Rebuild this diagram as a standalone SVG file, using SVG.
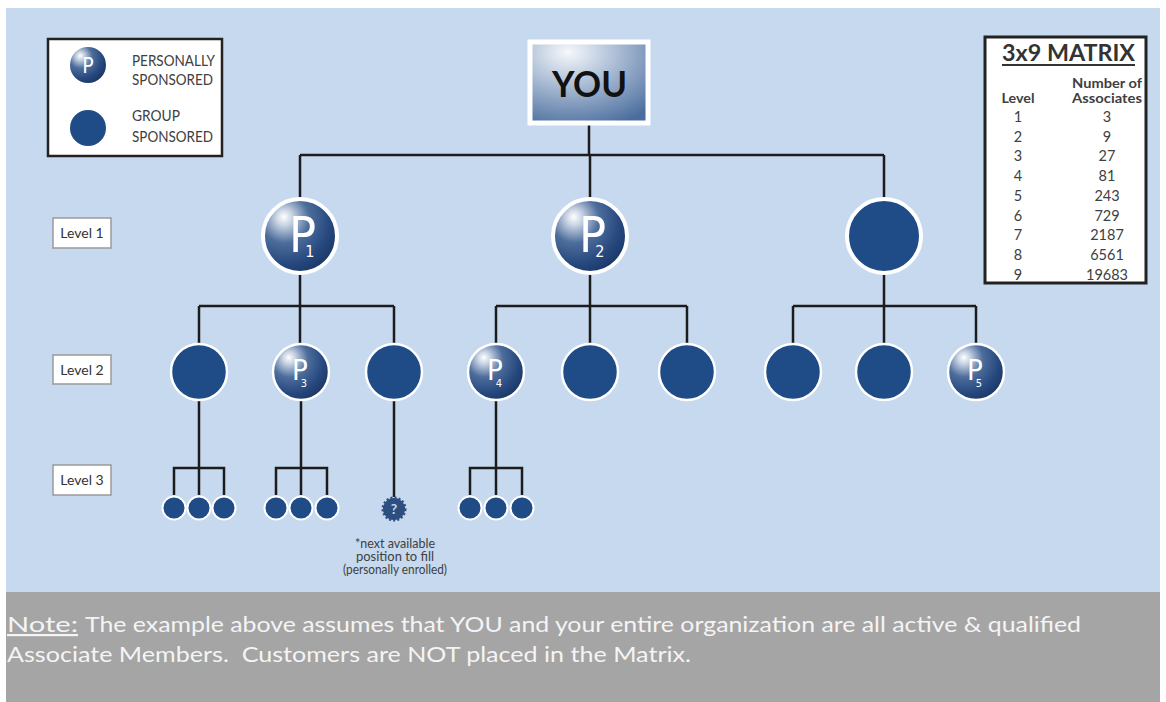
<svg xmlns="http://www.w3.org/2000/svg" width="1166" height="702" viewBox="0 0 1166 702">
<style>
.bg{fill:#c6d9ee}
.conn{stroke:#1c1c1c;stroke-width:2.5;fill:none}
.grp{fill:#1f4b87;stroke:#ffffff}
.pc{fill:url(#pgrad);stroke:#ffffff}
.pl{font-family:"DejaVu Sans",sans-serif;font-stretch:condensed;fill:#ffffff}
.txt{font-family:Lato,"Open Sans",sans-serif;fill:#404040}
.lvl{fill:#ffffff;stroke:#9a9a9a;stroke-width:1.5}
.note{font-family:Lato,"Open Sans",sans-serif;fill:#f4f4f4;font-size:22px}
</style>
<defs>
<radialGradient id="pgrad" cx="0.32" cy="0.3" r="0.78" fx="0.28" fy="0.24">
<stop offset="0" stop-color="#ffffff"/>
<stop offset="0.14" stop-color="#c9d4e4"/>
<stop offset="0.42" stop-color="#4d6d9b"/>
<stop offset="0.75" stop-color="#27497f"/>
<stop offset="1" stop-color="#1a3565"/>
</radialGradient>
<radialGradient id="yougrad" cx="0.35" cy="0.15" r="0.95" fx="0.32" fy="0.12">
<stop offset="0" stop-color="#f6f8fb"/>
<stop offset="0.35" stop-color="#b9c8dc"/>
<stop offset="1" stop-color="#4a6d9e"/>
</radialGradient>
</defs>
<rect x="0" y="0" width="1166" height="702" fill="#ffffff"/>
<rect class="bg" x="6" y="8" width="1154" height="584"/>
<rect x="6" y="592" width="1154" height="110" fill="#a5a5a5"/>

<g id="connectors">
<path class="conn" d="M589 125 V155 M300 155 H884 M300 155 V198 M590 155 V198 M884 155 V198"/>
<path class="conn" d="M300 274 V306 M199 306 H394 M199 306 V344 M300 306 V344 M394 306 V344"/>
<path class="conn" d="M590 274 V306 M496 306 H687 M496 306 V344 M590 306 V344 M687 306 V344"/>
<path class="conn" d="M884 274 V306 M793 306 H976 M793 306 V344 M884 306 V344 M976 306 V344"/>
<path class="conn" d="M199 400 V468 M174 495 V468 H224 V495 M199 468 V495"/>
<path class="conn" d="M301 400 V468 M276 495 V468 H327 V495 M301 468 V495"/>
<path class="conn" d="M394 400 V497"/>
<path class="conn" d="M496 400 V468 M470 495 V468 H522 V495 M496 468 V495"/>
</g>

<g id="legend">
<rect x="48" y="39" width="174" height="117" fill="#ffffff" stroke="#222222" stroke-width="2.5"/>
<circle class="pc" cx="88" cy="65" r="18" stroke-width="0"/>
<text class="pl" x="88" y="73" font-size="21" text-anchor="middle">P</text>
<circle class="grp" cx="88" cy="128" r="18" stroke-width="0"/>
<text class="txt" x="132" y="66" font-size="14.5" textLength="83" lengthAdjust="spacingAndGlyphs">PERSONALLY</text>
<text class="txt" x="132" y="85" font-size="14.5" textLength="81" lengthAdjust="spacingAndGlyphs">SPONSORED</text>
<text class="txt" x="132" y="121" font-size="14.5" textLength="48" lengthAdjust="spacingAndGlyphs">GROUP</text>
<text class="txt" x="132" y="142" font-size="14.5" textLength="81" lengthAdjust="spacingAndGlyphs">SPONSORED</text>
</g>

<g id="you">
<rect x="530" y="42" width="118" height="81" fill="url(#yougrad)" stroke="#ffffff" stroke-width="5"/>
<text x="589.5" y="97" font-family="Lato,'Open Sans',sans-serif" font-weight="bold" font-size="37" fill="#111111" text-anchor="middle" textLength="75" lengthAdjust="spacingAndGlyphs">YOU</text>
</g>

<g id="matrix">
<rect x="985" y="37" width="161" height="246" fill="#ffffff" stroke="#222222" stroke-width="3"/>
<text class="txt" x="1002" y="61" font-size="22" font-weight="bold" textLength="133" lengthAdjust="spacingAndGlyphs" style="fill:#333333">3x9 MATRIX</text>
<line x1="1002" y1="65" x2="1135" y2="65" stroke="#333333" stroke-width="2"/>
<g class="txt" font-size="13" font-weight="bold" text-anchor="middle">
<text x="1107" y="88" textLength="70" lengthAdjust="spacingAndGlyphs">Number of</text>
<text x="1018" y="103" textLength="33" lengthAdjust="spacingAndGlyphs">Level</text>
<text x="1107" y="103" textLength="70" lengthAdjust="spacingAndGlyphs">Associates</text>
</g>
<g class="txt" font-size="14.5" text-anchor="middle">
<text x="1018" y="122">1</text><text x="1107" y="122">3</text>
<text x="1018" y="142">2</text><text x="1107" y="142">9</text>
<text x="1018" y="161">3</text><text x="1107" y="161">27</text>
<text x="1018" y="181">4</text><text x="1107" y="181">81</text>
<text x="1018" y="201">5</text><text x="1107" y="201">243</text>
<text x="1018" y="221">6</text><text x="1107" y="221">729</text>
<text x="1018" y="240">7</text><text x="1107" y="240">2187</text>
<text x="1018" y="260">8</text><text x="1107" y="260">6561</text>
<text x="1018" y="280">9</text><text x="1107" y="280">19683</text>
</g>
</g>

<g id="level-labels">
<rect class="lvl" x="53" y="218" width="58" height="30"/>
<text class="txt" x="82" y="238" font-size="14" text-anchor="middle" style="fill:#333333">Level 1</text>
<rect class="lvl" x="53" y="355" width="58" height="29"/>
<text class="txt" x="82" y="375" font-size="14" text-anchor="middle" style="fill:#333333">Level 2</text>
<rect class="lvl" x="53" y="465" width="58" height="30"/>
<text class="txt" x="82" y="485" font-size="14" text-anchor="middle" style="fill:#333333">Level 3</text>
</g>

<g id="p1" transform="translate(300 236)">
<circle class="pc" r="37" stroke-width="4"/>
<text class="pl" x="-11" y="16" font-size="50">P<tspan dx="-11" dy="5" font-size="16">1</tspan></text>
</g>
<g id="p2" transform="translate(590 236)">
<circle class="pc" r="37" stroke-width="4"/>
<text class="pl" x="-11" y="16" font-size="50">P<tspan dx="-11" dy="5" font-size="16">2</tspan></text>
</g>
<g id="g1" transform="translate(884 236)">
<circle class="grp" r="37" stroke-width="4"/>
</g>

<g id="l2a" transform="translate(199 372)"><circle class="grp" r="28" stroke-width="2.5"/></g>
<g id="p3" transform="translate(301 372)">
<circle class="pc" r="28" stroke-width="2.5"/>
<text class="pl" x="-9" y="8" font-size="29">P<tspan dx="-7" dy="7" font-size="11">3</tspan></text>
</g>
<g id="l2c" transform="translate(394 372)"><circle class="grp" r="28" stroke-width="2.5"/></g>
<g id="p4" transform="translate(496 372)">
<circle class="pc" r="28" stroke-width="2.5"/>
<text class="pl" x="-9" y="8" font-size="29">P<tspan dx="-7" dy="7" font-size="11">4</tspan></text>
</g>
<g id="l2e" transform="translate(590 372)"><circle class="grp" r="28" stroke-width="2.5"/></g>
<g id="l2f" transform="translate(687 372)"><circle class="grp" r="28" stroke-width="2.5"/></g>
<g id="l2g" transform="translate(793 372)"><circle class="grp" r="28" stroke-width="2.5"/></g>
<g id="l2h" transform="translate(884 372)"><circle class="grp" r="28" stroke-width="2.5"/></g>
<g id="p5" transform="translate(976 372)">
<circle class="pc" r="28" stroke-width="2.5"/>
<text class="pl" x="-9" y="8" font-size="29">P<tspan dx="-7" dy="7" font-size="11">5</tspan></text>
</g>

<g id="level3">
<circle class="grp" cx="174" cy="508" r="11.5" stroke-width="2"/>
<circle class="grp" cx="199" cy="508" r="11.5" stroke-width="2"/>
<circle class="grp" cx="224" cy="508" r="11.5" stroke-width="2"/>
<circle class="grp" cx="276" cy="508" r="11.5" stroke-width="2"/>
<circle class="grp" cx="301" cy="508" r="11.5" stroke-width="2"/>
<circle class="grp" cx="327" cy="508" r="11.5" stroke-width="2"/>
<circle class="grp" cx="470" cy="508" r="11.5" stroke-width="2"/>
<circle class="grp" cx="496" cy="508" r="11.5" stroke-width="2"/>
<circle class="grp" cx="522" cy="508" r="11.5" stroke-width="2"/>
</g>

<g id="next-position">
<circle cx="394" cy="509" r="11" fill="#2c4f80" stroke="#2c4f80" stroke-width="3" stroke-dasharray="2 2"/>
<text x="394" y="514" font-family="Lato,'Open Sans',sans-serif" font-weight="bold" font-size="14" fill="#c9d6e8" text-anchor="middle">?</text>
<g class="txt" font-size="12.5" text-anchor="middle">
<text x="395" y="548" textLength="80" lengthAdjust="spacingAndGlyphs">*next available</text>
<text x="395" y="561" textLength="78" lengthAdjust="spacingAndGlyphs">position to fill</text>
<text x="395" y="574" textLength="104" lengthAdjust="spacingAndGlyphs">(personally enrolled)</text>
</g>
</g>

<g id="note">
<text class="note" x="7" y="632" text-decoration="underline" textLength="71" lengthAdjust="spacingAndGlyphs">Note:</text>
<text class="note" x="85" y="632" textLength="996" lengthAdjust="spacingAndGlyphs">The example above assumes that YOU and your entire organization are all active &amp; qualified</text>
<text class="note" x="7" y="662" xml:space="preserve" textLength="684" lengthAdjust="spacingAndGlyphs">Associate Members.  Customers are NOT placed in the Matrix.</text>
</g>
</svg>
